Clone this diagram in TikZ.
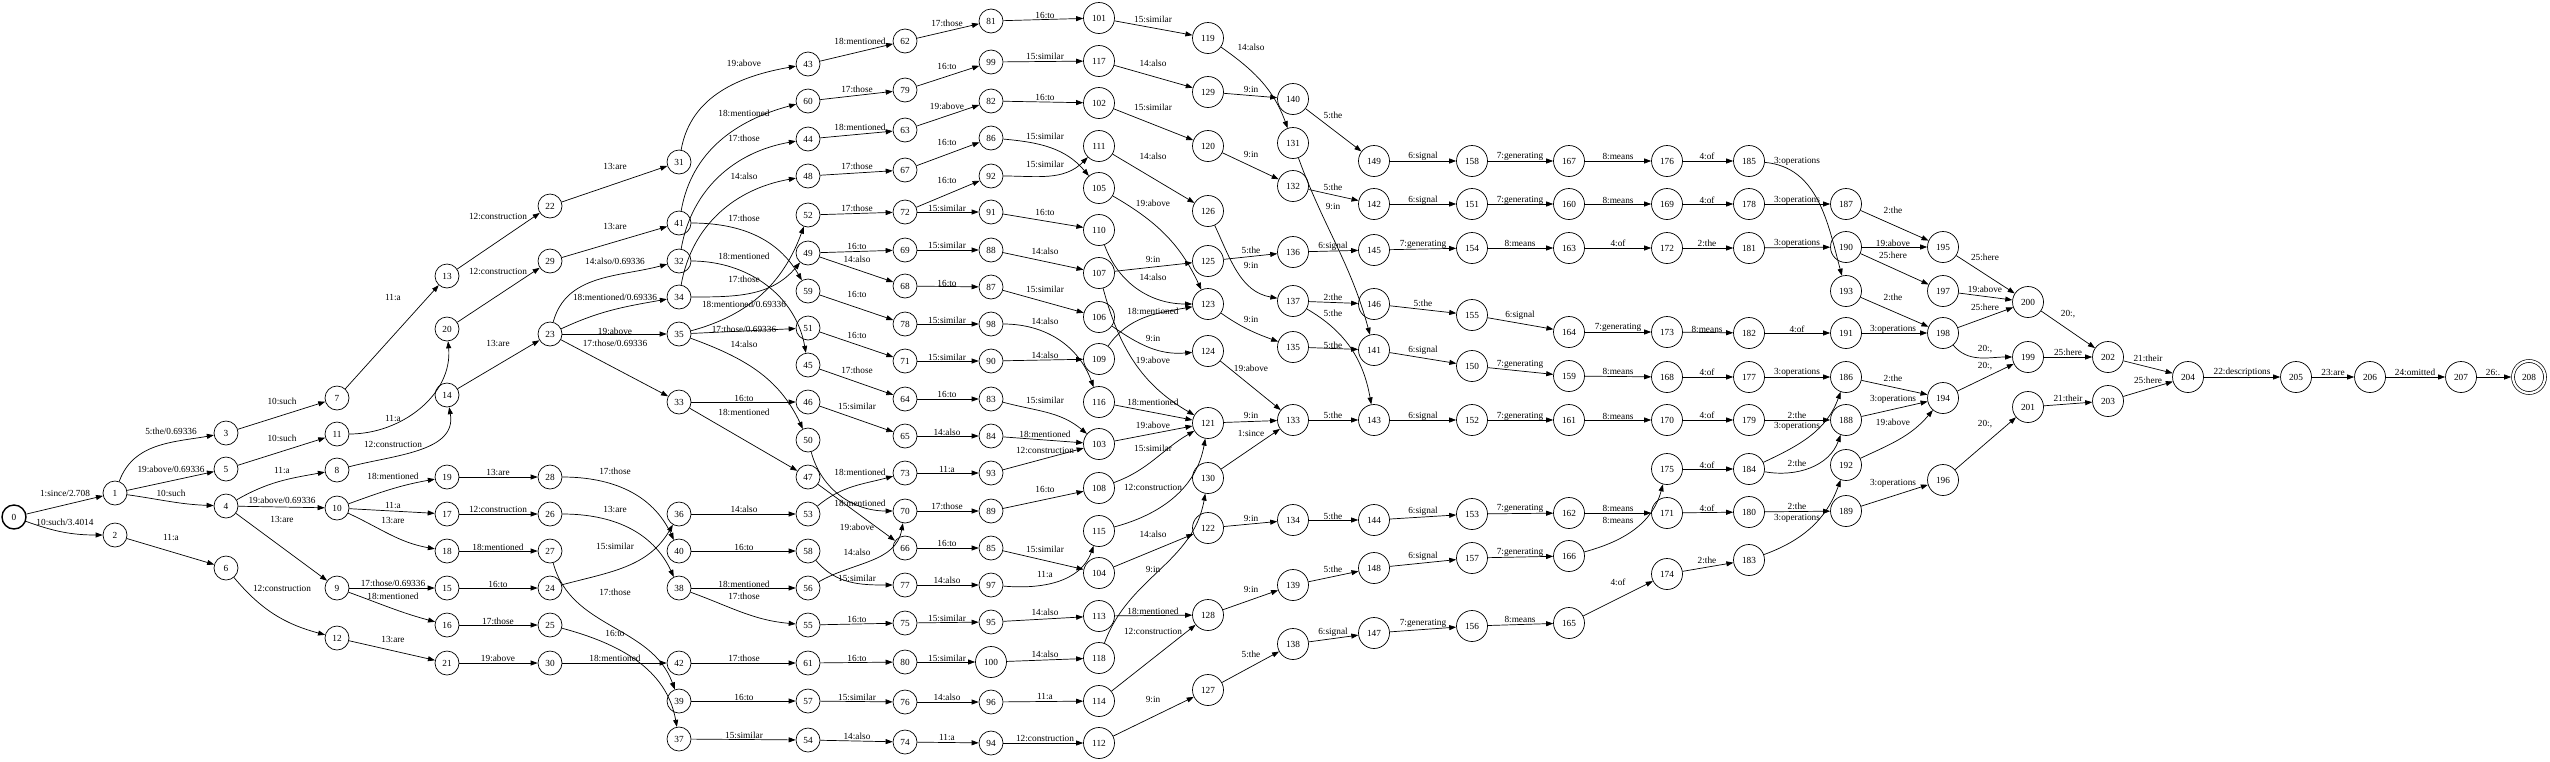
\documentclass[tikz,border=0pt]{standalone}
\usepackage{fontspec}
\setmainfont{Liberation Serif}
\usetikzlibrary{arrows.meta}
\tikzset{
 st/.style={circle,draw,line width=0.7pt,minimum size=24pt,inner sep=0pt},
 wd/.style={st,minimum size=31pt},
 e/.style={draw,line width=0.7pt,-{Triangle[length=7pt,width=5pt]}},
 lbl/.style={inner sep=0pt},
}
\newcommand\mkst[3]{\node[st] (n#1) at (#2,-#3) {#1};}
\newcommand\mkwd[3]{\node[wd] (n#1) at (#2,-#3) {#1};}
\newcommand\edg[5]{\draw[e] (n#1) -- (n#2) node[lbl,at={(#3,-#4)}]{#5};}
\newcommand\cedg[6]{\draw[e] (n#1) to[#3] (n#2) node[lbl,at={(#4,-#5)}]{#6};}
\begin{document}
\begin{tikzpicture}[x=1pt,y=1pt,every node/.append style={font=\fontsize{9.3}{10}\selectfont}]
\useasboundingbox (0,0) rectangle (2550,-761);
% nodes
\node[st,line width=1.4pt] (n0) at (14,-517) {0};
\mkst{1}{115}{493}\mkst{2}{115}{535}
\mkst{3}{226}{433}\mkst{4}{226}{506}\mkst{5}{226}{469}\mkst{6}{226}{568}
\mkst{7}{337}{398}\mkst{8}{337}{470}\mkst{9}{337}{588}\mkst{10}{337}{508}\mkst{11}{337}{434}\mkst{12}{337}{638}
\mkst{13}{447}{276}\mkst{14}{447}{395}\mkst{15}{447}{588}\mkst{16}{447}{625}\mkst{17}{447}{514}\mkst{18}{447}{551}\mkst{19}{447}{477}\mkst{20}{447}{329}\mkst{21}{447}{663}
\mkst{22}{550}{206}\mkst{23}{550}{334}\mkst{24}{550}{588}\mkst{25}{550}{625}\mkst{26}{550}{514}\mkst{27}{550}{551}\mkst{28}{550}{477}\mkst{29}{550}{261}\mkst{30}{550}{663}
\mkst{31}{679}{162}\mkst{32}{679}{261}\mkst{33}{679}{402}\mkst{34}{679}{297}\mkst{35}{679}{334}\mkst{36}{679}{514}\mkst{37}{679}{739}\mkst{38}{679}{588}\mkst{39}{679}{701}\mkst{40}{679}{551}\mkst{41}{679}{223}\mkst{42}{679}{663}
\mkst{43}{808}{64}\mkst{44}{808}{139}\mkst{45}{808}{365}\mkst{46}{808}{402}\mkst{47}{808}{477}\mkst{48}{808}{176}\mkst{49}{808}{253}\mkst{50}{808}{440}\mkst{51}{808}{328}\mkst{52}{808}{215}\mkst{53}{808}{514}\mkst{54}{808}{740}\mkst{55}{808}{625}\mkst{56}{808}{588}\mkst{57}{808}{701}\mkst{58}{808}{551}\mkst{59}{808}{291}\mkst{60}{808}{101}\mkst{61}{808}{663}
\mkst{62}{905}{41}\mkst{63}{905}{130}\mkst{64}{905}{399}\mkst{65}{905}{436}\mkst{66}{905}{548}\mkst{67}{905}{170}\mkst{68}{905}{286}\mkst{69}{905}{250}\mkst{70}{905}{511}\mkst{71}{905}{361}\mkst{72}{905}{212}\mkst{73}{905}{473}\mkst{74}{905}{742}\mkst{75}{905}{623}\mkst{76}{905}{702}\mkst{77}{905}{585}\mkst{78}{905}{324}\mkst{79}{905}{90}\mkst{80}{905}{662}
\mkst{81}{991}{21}\mkst{82}{991}{101}\mkst{83}{991}{399}\mkst{84}{991}{436}\mkst{85}{991}{548}\mkst{86}{991}{138}\mkst{87}{991}{287}\mkst{88}{991}{250}\mkst{89}{991}{511}\mkst{90}{991}{361}\mkst{91}{991}{212}\mkst{92}{991}{176}\mkst{93}{991}{473}\mkst{94}{991}{743}\mkst{95}{991}{622}\mkst{96}{991}{702}\mkst{97}{991}{585}\mkst{98}{991}{324}\mkst{99}{991}{62}\mkwd{100}{991}{662}
\mkwd{101}{1099}{18}\mkwd{102}{1099}{103}\mkwd{103}{1099}{444}\mkwd{104}{1099}{573}\mkwd{105}{1099}{188}\mkwd{106}{1099}{317}\mkwd{107}{1099}{273}\mkwd{108}{1099}{488}\mkwd{109}{1099}{359}\mkwd{110}{1099}{230}\mkwd{111}{1099}{146}\mkwd{112}{1099}{743}\mkwd{113}{1099}{616}\mkwd{114}{1099}{701}\mkwd{115}{1099}{531}\mkwd{116}{1099}{402}\mkwd{117}{1099}{61}\mkwd{118}{1099}{658}
\mkwd{119}{1208}{38}\mkwd{120}{1208}{146}\mkwd{121}{1208}{423}\mkwd{122}{1208}{528}\mkwd{123}{1208}{304}\mkwd{124}{1208}{351}\mkwd{125}{1208}{261}\mkwd{126}{1208}{211}\mkwd{127}{1208}{690}\mkwd{128}{1208}{615}\mkwd{129}{1208}{92}\mkwd{130}{1208}{478}
\mkwd{131}{1293}{143}\mkwd{132}{1293}{186}\mkwd{133}{1293}{420}\mkwd{134}{1293}{520}\mkwd{135}{1293}{347}\mkwd{136}{1293}{252}\mkwd{137}{1293}{301}\mkwd{138}{1293}{644}\mkwd{139}{1293}{585}\mkwd{140}{1293}{99}
\mkwd{141}{1374}{350}\mkwd{142}{1374}{204}\mkwd{143}{1374}{420}\mkwd{144}{1374}{520}\mkwd{145}{1374}{250}\mkwd{146}{1374}{304}\mkwd{147}{1374}{633}\mkwd{148}{1374}{568}\mkwd{149}{1374}{161}
\mkwd{150}{1472}{366}\mkwd{151}{1472}{204}\mkwd{152}{1472}{420}\mkwd{153}{1472}{514}\mkwd{154}{1472}{248}\mkwd{155}{1472}{315}\mkwd{156}{1472}{626}\mkwd{157}{1472}{558}\mkwd{158}{1472}{161}
\mkwd{159}{1569}{376}\mkwd{160}{1569}{204}\mkwd{161}{1569}{420}\mkwd{162}{1569}{513}\mkwd{163}{1569}{248}\mkwd{164}{1569}{332}\mkwd{165}{1569}{623}\mkwd{166}{1569}{556}\mkwd{167}{1569}{161}
\mkwd{168}{1667}{377}\mkwd{169}{1667}{204}\mkwd{170}{1667}{420}\mkwd{171}{1667}{513}\mkwd{172}{1667}{248}\mkwd{173}{1667}{332}\mkwd{174}{1667}{574}\mkwd{175}{1667}{469}\mkwd{176}{1667}{161}
\mkwd{177}{1749}{377}\mkwd{178}{1749}{204}\mkwd{179}{1749}{420}\mkwd{180}{1749}{512}\mkwd{181}{1749}{248}\mkwd{182}{1749}{333}\mkwd{183}{1749}{560}\mkwd{184}{1749}{469}\mkwd{185}{1749}{161}
\mkwd{186}{1846}{377}\mkwd{187}{1846}{204}\mkwd{188}{1846}{420}\mkwd{189}{1846}{511}\mkwd{190}{1846}{247}\mkwd{191}{1846}{333}\mkwd{192}{1846}{465}\mkwd{193}{1846}{291}
\mkwd{194}{1943}{398}\mkwd{195}{1943}{247}\mkwd{196}{1943}{480}\mkwd{197}{1943}{291}\mkwd{198}{1943}{333}
\mkwd{199}{2028}{357}\mkwd{200}{2028}{302}\mkwd{201}{2028}{407}
\mkwd{202}{2108}{357}\mkwd{203}{2108}{401}
\mkwd{204}{2188}{377}\mkwd{205}{2296}{377}\mkwd{206}{2370}{377}\mkwd{207}{2461}{377}
\node[wd,double,double distance=2.2pt,minimum size=32pt,outer sep=1.8pt] (n208) at (2529,-377) {208};
% edges
\edg{0}{1}{65}{493}{1:since/2.708}
\cedg{0}{2}{out=-20,in=180}{65}{522}{10:such/3.4014}
\cedg{1}{3}{out=70,in=190}{171}{431}{5:the/0.69336}
\edg{1}{5}{171}{469}{19:above/0.69336}
\cedg{1}{4}{out=-8,in=178}{171}{493}{10:such}
\edg{2}{6}{171}{537}{11:a}
\edg{3}{7}{282}{401}{10:such}
\edg{5}{11}{282}{438}{10:such}
\cedg{4}{8}{out=30,in=190}{282}{470}{11:a}
\edg{4}{10}{282}{500}{19:above/0.69336}
\edg{4}{9}{282}{519}{13:are}
\cedg{6}{12}{out=-50,in=165}{282}{588}{12:construction}
\edg{7}{13}{393}{297}{11:a}
\cedg{11}{20}{out=0,in=-85}{393}{418}{11:a}
\cedg{8}{14}{out=15,in=-80}{393}{444}{12:construction}
\cedg{10}{19}{out=20,in=190}{393}{476}{18:mentioned}
\edg{10}{17}{393}{505}{11:a}
\cedg{10}{18}{out=-25,in=170}{393}{520}{13:are}
\edg{9}{15}{393}{583}{17:those/0.69336}
\cedg{9}{16}{out=-20,in=165}{393}{596}{18:mentioned}
\edg{12}{21}{393}{639}{13:are}
\edg{13}{22}{498}{216}{12:construction}
\edg{20}{29}{498}{271}{12:construction}
\edg{14}{23}{498}{343}{13:are}
\edg{19}{28}{498}{472}{13:are}
\edg{17}{26}{498}{509}{12:construction}
\edg{18}{27}{498}{547}{18:mentioned}
\edg{15}{24}{498}{584}{16:to}
\edg{16}{25}{498}{621}{17:those}
\edg{21}{30}{498}{658}{19:above}
\edg{22}{31}{615}{166}{13:are}
\edg{29}{41}{615}{226}{13:are}
\cedg{23}{32}{out=75,in=195}{615}{261}{14:also/0.69336}
\cedg{23}{34}{out=25,in=190}{615}{297}{18:mentioned/0.69336}
\edg{23}{35}{615}{331}{19:above}
\edg{23}{33}{615}{343}{17:those/0.69336}
\cedg{28}{40}{out=0,in=115}{615}{471}{17:those}
\cedg{26}{38}{out=0,in=115}{615}{509}{13:are}
\cedg{24}{36}{out=15,in=-120}{615}{546}{15:similar}
\cedg{27}{39}{out=-75,in=110}{615}{592}{17:those}
\cedg{25}{37}{out=-15,in=100}{615}{633}{16:to}
\edg{30}{42}{615}{658}{18:mentioned}
\cedg{31}{43}{out=80,in=190}{744}{63}{19:above}
\cedg{41}{60}{out=80,in=195}{744}{113}{18:mentioned}
\cedg{32}{44}{out=80,in=190}{744}{138}{17:those}
\cedg{34}{48}{out=80,in=190}{744}{176}{14:also}
\cedg{41}{59}{out=0,in=120}{744}{218}{17:those}
\cedg{32}{45}{out=0,in=100}{744}{256}{18:mentioned}
\cedg{34}{49}{out=0,in=-130}{744}{279}{17:those}
\cedg{35}{52}{out=15,in=-110}{744}{304}{18:mentioned/0.69336}
\edg{35}{51}{744}{329}{17:those/0.69336}
\cedg{35}{50}{out=-20,in=115}{744}{344}{14:also}
\edg{33}{46}{744}{398}{16:to}
\edg{33}{47}{744}{412}{18:mentioned}
\edg{36}{53}{744}{509}{14:also}
\edg{40}{58}{744}{547}{16:to}
\edg{38}{56}{744}{584}{18:mentioned}
\cedg{38}{55}{out=-20,in=175}{744}{596}{17:those}
\edg{42}{61}{744}{658}{17:those}
\edg{39}{57}{744}{697}{16:to}
\edg{37}{54}{744}{735}{15:similar}
\edg{43}{62}{860}{41}{18:mentioned}
\edg{60}{79}{857}{89}{17:those}
\edg{44}{63}{860}{127}{18:mentioned}
\edg{48}{67}{857}{166}{17:those}
\edg{52}{72}{857}{208}{17:those}
\edg{49}{69}{857}{246}{16:to}
\edg{49}{68}{857}{259}{14:also}
\edg{59}{78}{857}{294}{16:to}
\edg{51}{71}{857}{335}{16:to}
\edg{45}{64}{857}{370}{17:those}
\edg{46}{65}{857}{406}{15:similar}
\cedg{53}{73}{out=40,in=195}{860}{472}{18:mentioned}
\cedg{50}{70}{out=-75,in=180}{860}{503}{18:mentioned}
\edg{47}{66}{857}{527}{19:above}
\cedg{56}{70}{out=30,in=-100}{857}{552}{14:also}
\cedg{58}{77}{out=-50,in=180}{857}{578}{15:similar}
\edg{55}{75}{857}{619}{16:to}
\edg{61}{80}{857}{658}{16:to}
\edg{57}{76}{857}{697}{15:similar}
\edg{54}{74}{857}{736}{14:also}
\edg{62}{81}{947}{23}{17:those}
\edg{79}{99}{947}{66}{16:to}
\edg{63}{82}{947}{106}{19:above}
\edg{67}{86}{947}{142}{16:to}
\edg{72}{92}{947}{180}{16:to}
\edg{72}{91}{947}{208}{15:similar}
\edg{69}{88}{947}{245}{15:similar}
\edg{68}{87}{947}{283}{16:to}
\edg{78}{98}{947}{320}{15:similar}
\edg{71}{90}{947}{357}{15:similar}
\edg{64}{83}{947}{394}{16:to}
\edg{65}{84}{947}{432}{14:also}
\edg{73}{93}{947}{469}{11:a}
\edg{70}{89}{947}{506}{17:those}
\edg{66}{85}{947}{543}{16:to}
\edg{77}{97}{947}{580}{14:also}
\edg{75}{95}{947}{618}{15:similar}
\edg{80}{100}{947}{658}{15:similar}
\edg{76}{96}{947}{697}{14:also}
\edg{74}{94}{947}{737}{11:a}
\edg{81}{101}{1045}{15}{16:to}
\edg{99}{117}{1045}{56}{15:similar}
\edg{82}{102}{1045}{97}{16:to}
\cedg{86}{105}{out=-5,in=130}{1045}{136}{15:similar}
\cedg{92}{111}{out=0,in=-135}{1045}{164}{15:similar}
\edg{91}{110}{1045}{212}{16:to}
\edg{88}{107}{1045}{251}{14:also}
\edg{87}{106}{1045}{289}{15:similar}
\cedg{98}{116}{out=0,in=110}{1045}{321}{14:also}
\edg{90}{109}{1045}{355}{14:also}
\cedg{83}{103}{out=-15,in=140}{1045}{400}{15:similar}
\edg{84}{103}{1045}{434}{18:mentioned}
\edg{93}{103}{1045}{450}{12:construction}
\edg{89}{108}{1045}{489}{16:to}
\edg{85}{104}{1045}{549}{15:similar}
\cedg{97}{115}{out=-5,in=-110}{1045}{574}{11:a}
\edg{95}{113}{1045}{612}{14:also}
\edg{100}{118}{1045}{654}{14:also}
\edg{96}{114}{1045}{696}{11:a}
\edg{94}{112}{1045}{738}{12:construction}
\edg{101}{119}{1153}{19}{15:similar}
\edg{117}{129}{1153}{63}{14:also}
\edg{102}{120}{1153}{107}{15:similar}
\edg{111}{126}{1153}{156}{14:also}
\cedg{105}{123}{out=-30,in=115}{1153}{203}{19:above}
\edg{107}{125}{1153}{259}{9:in}
\cedg{110}{123}{out=-70,in=180}{1153}{277}{14:also}
\cedg{109}{123}{out=55,in=190}{1153}{311}{18:mentioned}
\cedg{106}{124}{out=-35,in=185}{1153}{338}{9:in}
\cedg{107}{121}{out=-75,in=150}{1153}{360}{19:above}
\edg{116}{121}{1153}{402}{18:mentioned}
\edg{103}{121}{1153}{425}{19:above}
\cedg{108}{121}{out=20,in=-150}{1153}{448}{15:similar}
\cedg{115}{121}{out=15,in=-100}{1153}{487}{12:construction}
\edg{104}{122}{1153}{534}{14:also}
\cedg{118}{130}{out=70,in=-100}{1153}{569}{9:in}
\edg{113}{128}{1153}{611}{18:mentioned}
\edg{114}{128}{1153}{631}{12:construction}
\edg{112}{127}{1153}{699}{9:in}
\cedg{119}{131}{out=-35,in=110}{1251}{47}{14:also}
\edg{129}{140}{1251}{89}{9:in}
\edg{120}{132}{1251}{154}{9:in}
\edg{125}{136}{1251}{250}{5:the}
\cedg{126}{137}{out=-65,in=170}{1251}{265}{9:in}
\cedg{123}{135}{out=-35,in=160}{1251}{319}{9:in}
\edg{124}{133}{1251}{368}{19:above}
\edg{121}{133}{1251}{415}{9:in}
\edg{130}{133}{1251}{433}{1:since}
\edg{122}{134}{1251}{518}{9:in}
\edg{128}{139}{1251}{589}{9:in}
\edg{127}{138}{1251}{654}{5:the}
\edg{140}{149}{1333}{115}{5:the}
\edg{132}{142}{1333}{187}{5:the}
\cedg{131}{141}{out=-70,in=105}{1333}{206}{9:in}
\edg{136}{145}{1333}{246}{6:signal}
\edg{137}{146}{1333}{297}{2:the}
\cedg{137}{143}{out=-30,in=100}{1333}{313}{5:the}
\edg{135}{141}{1333}{345}{5:the}
\edg{133}{143}{1333}{415}{5:the}
\edg{134}{144}{1333}{516}{5:the}
\edg{139}{148}{1333}{569}{5:the}
\edg{138}{147}{1333}{632}{6:signal}
\edg{149}{158}{1423}{156}{6:signal}
\edg{142}{151}{1423}{200}{6:signal}
\edg{145}{154}{1423}{244}{7:generating}
\edg{146}{155}{1423}{303}{5:the}
\edg{141}{150}{1423}{350}{6:signal}
\edg{143}{152}{1423}{416}{6:signal}
\edg{144}{153}{1423}{511}{6:signal}
\edg{148}{157}{1423}{556}{6:signal}
\edg{147}{156}{1423}{623}{7:generating}
\edg{158}{167}{1520}{156}{7:generating}
\edg{151}{160}{1520}{200}{7:generating}
\edg{154}{163}{1520}{243}{8:means}
\edg{155}{164}{1520}{315}{6:signal}
\edg{150}{159}{1520}{364}{7:generating}
\edg{152}{161}{1520}{416}{7:generating}
\edg{153}{162}{1520}{508}{7:generating}
\edg{157}{166}{1520}{552}{7:generating}
\edg{156}{165}{1520}{619}{8:means}
\edg{167}{176}{1618}{156}{8:means}
\edg{160}{169}{1618}{200}{8:means}
\edg{163}{172}{1618}{243}{4:of}
\edg{164}{173}{1618}{327}{7:generating}
\edg{159}{168}{1618}{371}{8:means}
\edg{161}{170}{1618}{416}{8:means}
\edg{162}{171}{1618}{508}{8:means}
\cedg{166}{175}{out=15,in=-105}{1618}{520}{8:means}
\edg{165}{174}{1618}{582}{4:of}
\edg{176}{185}{1707}{156}{4:of}
\edg{169}{178}{1707}{200}{4:of}
\edg{172}{181}{1707}{243}{2:the}
\edg{173}{182}{1707}{329}{8:means}
\edg{168}{177}{1707}{372}{4:of}
\edg{170}{179}{1707}{415}{4:of}
\edg{175}{184}{1707}{465}{4:of}
\edg{171}{180}{1707}{508}{4:of}
\edg{174}{183}{1707}{560}{2:the}
\cedg{185}{193}{out=-5,in=105}{1797}{161}{3:operations}
\edg{178}{187}{1797}{200}{3:operations}
\edg{181}{190}{1797}{243}{3:operations}
\edg{182}{191}{1797}{329}{4:of}
\edg{177}{186}{1797}{372}{3:operations}
\edg{179}{188}{1797}{415}{2:the}
\cedg{184}{186}{out=25,in=-110}{1797}{426}{3:operations}
\cedg{184}{188}{out=-10,in=-110}{1797}{463}{2:the}
\edg{180}{189}{1797}{506}{2:the}
\cedg{183}{192}{out=20,in=-110}{1797}{518}{3:operations}
\edg{187}{195}{1893}{210}{2:the}
\edg{190}{195}{1893}{243}{19:above}
\edg{190}{197}{1893}{255}{25:here}
\edg{193}{198}{1893}{297}{2:the}
\edg{191}{198}{1893}{329}{3:operations}
\edg{186}{194}{1893}{378}{2:the}
\edg{188}{194}{1893}{399}{3:operations}
\cedg{192}{194}{out=25,in=-130}{1893}{422}{19:above}
\edg{189}{196}{1893}{483}{3:operations}
\edg{195}{200}{1985}{257}{25:here}
\edg{197}{200}{1985}{289}{19:above}
\edg{198}{200}{1985}{307}{25:here}
\cedg{198}{199}{out=-50,in=180}{1985}{349}{20:,}
\edg{194}{199}{1985}{366}{20:,}
\edg{196}{201}{1985}{424}{20:,}
\edg{200}{202}{2068}{314}{20:,}
\edg{199}{202}{2068}{352}{25:here}
\edg{201}{203}{2068}{398}{21:their}
\edg{202}{204}{2148}{358}{21:their}
\edg{203}{204}{2148}{380}{25:here}
\edg{204}{205}{2242}{372}{22:descriptions}
\edg{205}{206}{2333}{372}{23:are}
\edg{206}{207}{2415}{372}{24:omitted}
\edg{207}{208}{2493}{372}{26:.}
\end{tikzpicture}
\end{document}
